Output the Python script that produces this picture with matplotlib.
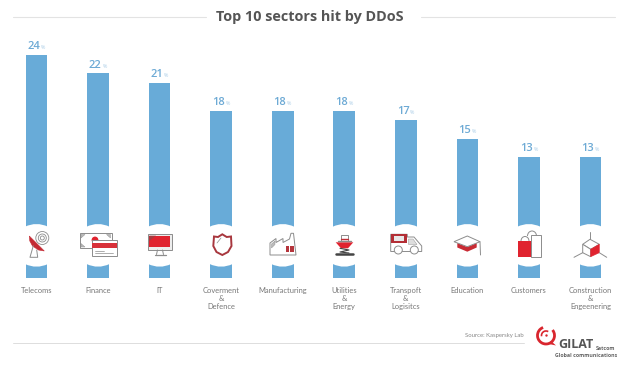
import matplotlib
matplotlib.use("Agg")
import matplotlib.pyplot as plt
from matplotlib.patches import Polygon, Rectangle, Circle, PathPatch, Arc
from matplotlib.path import Path

sectors = ["Telecoms", "Finance", "IT", "Coverment\n&\nDefence", "Manufacturing",
           "Utilities\n&\nEnergy", "Transpoft\n&\nLogisitcs", "Education", "Customers",
           "Construction\n&\nEngeenering"]
shares = [24, 22, 21, 18, 18, 18, 17, 15, 13, 13]

BLUE = "#68ABD8"
RED = "#E0232F"
GREY = "#8C8C8C"
W, H = 629, 376

plt.rcParams["font.family"] = ["Open Sans", "DejaVu Sans"]
fig = plt.figure(figsize=(W / 100, H / 100), dpi=100)

# chart axes, placed so bar 0 sits at x=36.5px and zero at y=278px
ax = fig.add_axes([13 / W, (H - 278) / H, 602 / W, 248 / H])
ax.bar(range(len(shares)), shares, width=0.352, color=BLUE, zorder=1)
ax.set_xlim((13 - 36.5) / 61.55, (615 - 36.5) / 61.55)
ax.set_ylim(0, 248 / 9.3)
ax.set_yticks([])
ax.set_xticks(range(len(sectors)))
ax.set_xticklabels(sectors, fontsize=5.4, family="Lato", color="#777777", linespacing=1.18)
ax.tick_params(axis="x", length=0, pad=6.5)
for s in ax.spines.values():
    s.set_visible(False)

for i, v in enumerate(shares):
    ax.annotate(str(v), (i, v), xytext=(-2, 4.2), textcoords="offset points", ha="center",
                va="baseline", fontsize=8, fontweight="semibold", color="#6DAAD5")
    ax.annotate("%", (i, v), xytext=(3.2, 4.2), textcoords="offset points", ha="left",
                va="baseline", fontsize=3.8, color="#A9CCE6")

# overlay in pixel coordinates for the decorations
ov = fig.add_axes([0, 0, 1, 1], zorder=5)
ov.set_xlim(0, W)
ov.set_ylim(H, 0)
ov.axis("off")
ov.patch.set_alpha(0)


def line(xs, ys, color=GREY, lw=0.7):
    ov.plot(xs, ys, color=color, lw=lw, solid_capstyle="round", solid_joinstyle="round")


def poly(pts, face="white", edge=GREY, lw=0.7):
    ov.add_patch(Polygon(pts, closed=True, facecolor=face, edgecolor=edge, lw=lw))


def rect(x0, y0, x1, y1, face="white", edge=GREY, lw=0.7):
    ov.add_patch(Rectangle((x0, y0), x1 - x0, y1 - y0, facecolor=face, edgecolor=edge, lw=lw))


# white gap across each bar, curved top and bottom
for i in range(len(shares)):
    cx = 36.5 + 61.55 * i
    hw = 11.5
    verts = [(cx - hw, 226.7), (cx, 221.3), (cx + hw, 226.7), (cx + hw, 264),
             (cx, 269.4), (cx - hw, 264), (cx - hw, 226.7)]
    codes = [Path.MOVETO, Path.CURVE3, Path.CURVE3, Path.LINETO, Path.CURVE3, Path.CURVE3,
             Path.CLOSEPOLY]
    ov.add_patch(PathPatch(Path(verts, codes), facecolor="white", edgecolor="none"))

# telecoms
for r in (2, 4, 6.5):
    ov.add_patch(Circle((42.3, 238), r, fill=False, edgecolor=GREY, lw=0.6))
line([33.3, 30, 37.7, 36.7], [245.7, 257.3, 257.3, 250])
poly([(29.3, 236), (44.3, 251), (38.5, 250), (32.5, 246), (29.8, 241)], face="#C42A33", edge="#C42A33", lw=0.4)

# finance
rect(80, 233.3, 111.7, 248.3)
ov.add_patch(Circle((95, 240), 3.4, facecolor=RED, edgecolor="none"))
poly([(81, 234.5), (85, 234.5), (81, 238)], face="#BBBBBB", lw=0.3)
poly([(110.5, 234.5), (106.5, 234.5), (110.5, 238)], face="#BBBBBB", lw=0.3)
poly([(81, 247), (85, 247), (81, 243.5)], face="#BBBBBB", lw=0.3)
rect(92.3, 240, 116.7, 255.7)
rect(92.3, 243.3, 116.7, 247.7, face="#D8313A", edge="none")
line([95, 104], [250.5, 250.5], lw=0.5)
line([95, 113], [253, 253], lw=0.5)

# IT
rect(147.7, 234, 171.7, 250, face="#EDEDED")
rect(149.3, 235.7, 170, 246.7, face=RED, edge="none")
poly([(149.3, 235.7), (156, 235.7), (149.3, 241)], face="#A83A40", edge="none")
line([157.5, 156.5], [250, 254.5])
line([162.5, 163.5], [250, 254.5])
line([154.5, 165.5], [254.7, 254.7], lw=0.9)

# defence
shield = [(214, 236.5), (218, 237), (222.3, 234.3), (226.7, 237), (231, 236.5), (231.5, 246),
          (228, 252), (222.3, 255), (216.5, 252), (213.3, 246)]
poly(shield, edge="#A8373E", lw=1.4)
line([217, 221], [243, 238], lw=0.5)

# manufacturing
poly([(270, 255), (270, 243), (276, 238.5), (276, 242.5), (283, 238.5), (283, 242.5), (289.5, 239),
      (291, 233.3), (293.5, 233.3), (296, 255)], lw=0.7)
poly([(271.5, 244), (275, 241), (275, 244.5), (271.5, 248)], face="#BBBBBB", lw=0.3)
for wx in (285.7, 290.4):
    for wy in (245.7, 249.4):
        rect(wx, wy, wx + 3.4, wy + 2.9, face="#B5353C", edge="none")

# utilities
rect(340.5, 235, 348, 240.5)
line([337.5, 351], [240.8, 240.8], lw=1)
line([341, 348], [239, 239], color="#C03038", lw=1)
poly([(335.7, 242.3), (353.3, 242.3), (348, 248.3), (341, 248.3)], face=RED, edge="none")
line([340, 349, 340, 349], [248.3, 250, 252, 253], color="#444444", lw=0.8)
line([336, 353], [254, 254], color="#444444", lw=1.8)

# transport
poly([(390.7, 234.3), (407.3, 234.3), (407.3, 237), (414, 237), (421.7, 246), (421.7, 251.5),
      (390.7, 251.5)], lw=0.7)
rect(390.7, 234.3, 407.3, 243.3, face="#B32E35", edge="none")
rect(394, 236.3, 404, 241.3, face="#E8E8E8", edge="none")
poly([(408.5, 239), (413, 239), (417, 244.5), (408.5, 244.5)], face="#DDDDDD", lw=0.3)
for wx in (398.3, 414.3):
    ov.add_patch(Circle((wx, 250), 4, facecolor="white", edgecolor=GREY, lw=0.7, zorder=3))

# education
poly([(457.3, 243), (467.3, 247), (476.7, 243), (476.7, 247.5), (467.3, 251.7), (457.3, 247.5)],
     face="#C92B34", edge="none")
poly([(454, 241.7), (467.3, 236), (480, 241.7), (467.3, 246.7)], lw=0.7)
line([480, 480.5], [241.7, 255])

# customers
rect(531, 235, 541, 257.3)
rect(518.3, 241, 531, 257.3, face=RED, edge="none")
ov.add_patch(Arc((532, 236), 9, 10, theta1=180, theta2=360, edgecolor=GREY, lw=0.7))
ov.add_patch(Arc((525, 241), 8, 9, theta1=180, theta2=360, edgecolor=GREY, lw=0.7))

# construction
poly([(590, 239.3), (599.3, 244.3), (590.7, 249.3), (582.7, 244.3)], lw=0.7)
poly([(582.7, 244.3), (590.7, 249.3), (590.7, 256.7), (582.7, 252.7)], lw=0.7)
poly([(590.7, 249.3), (599.3, 244.3), (599.3, 252.7), (590.7, 256.7)], face=RED, edge=RED, lw=0.4)
line([590, 590], [232.3, 239.3])
line([574, 582.7], [257.3, 252.7])
line([606.7, 599.3], [257.3, 252.7])

# title with rules
ov.text(310, 17, "Top 10 sectors hit by DDoS", ha="center", va="center", fontsize=10.4,
        fontweight="bold", color="#555555")
line([13, 206], [17, 17], color="#E3E3E3", lw=0.8)
line([421, 615], [17, 17], color="#E3E3E3", lw=0.8)

# footer
line([13, 524], [343, 343], color="#DDDDDD", lw=0.7)
ov.text(524, 336, "Source: Kaspersky Lab", ha="right", va="center", fontsize=4.3, family="Lato",
        color="#888888")

# logo
ov.add_patch(Arc((546, 335.5), 17, 17, theta1=-40, theta2=250, edgecolor="#D9262E", lw=2))
ov.add_patch(Arc((546, 335.5), 9, 9, theta1=170, theta2=300, edgecolor="#D9262E", lw=1.2))
ov.add_patch(Circle((546.5, 335.5), 1.2, facecolor="#D9262E", edgecolor="none"))
poly([(551, 341), (556, 345.5), (549, 344)], face="#D9262E", edge="none")
ov.text(558.5, 345, "GILAT", ha="left", va="center", fontsize=9, fontweight="bold", color="#555555")
ov.text(596, 348.7, "Satcom", ha="left", va="center", fontsize=3.8, fontweight="bold", color="#666666")
ov.text(555, 355.3, "Global communications", ha="left", va="center", fontsize=3.75, fontweight="bold",
        color="#666666")

fig.savefig("out.png", dpi=100)
